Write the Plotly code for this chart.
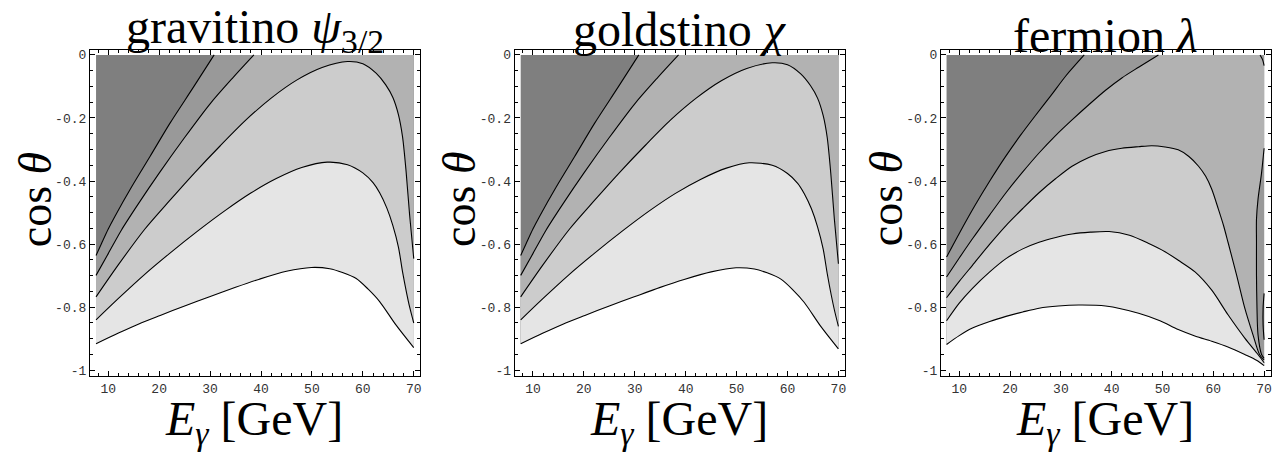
import plotly.graph_objects as go

# ---------------- data ----------------
X_TICKS = [10, 20, 30, 40, 50, 60, 70]
X_TICKTEXT = ["10", "20", "30", "40", "50", "60", "70"]
Y_TICKS = [0, -0.2, -0.4, -0.6, -0.8, -1]
Y_TICKTEXT = ["0", "-0.2", "-0.4", "-0.6", "-0.8", "-1"]

TITLES = ["gravitino <i>ψ</i><sub>3/2</sub>", "goldstino <i>χ</i>", "fermion <i>λ</i>"]

# panel 1: gravitino
G_C1_X = [7.6, 8.7, 10.0, 11.3, 14.6, 18.2, 22.1, 26.7, 30.8]
G_C1_Y = [-0.636, -0.597, -0.552, -0.512, -0.418, -0.322, -0.217, -0.103, 0.0]
G_C2_X = [7.6, 10.0, 12.6, 16.0, 20.0, 25.0, 30.0, 34.5, 38.6]
G_C2_Y = [-0.699, -0.630, -0.555, -0.470, -0.375, -0.262, -0.155, -0.072, 0.0]
G_C3_X = [7.6, 12.0, 17.2, 22.0, 27.0, 32.0, 37.0, 42.0, 47.0, 52.0, 57.0, 60.0, 62.6, 64.5, 65.9, 67.0, 67.8, 68.5, 69.2, 70.0]
G_C3_Y = [-0.767, -0.665, -0.552, -0.463, -0.373, -0.288, -0.207, -0.137, -0.080, -0.040, -0.021, -0.028, -0.058, -0.095, -0.135, -0.190, -0.260, -0.370, -0.510, -0.646]
G_C4_X = [7.6, 12, 17, 22, 27.6, 33, 38, 43, 48, 53, 57, 60, 62, 63.3, 64.7, 65.9, 67, 67.8, 68.6, 69.2, 70]
G_C4_Y = [-0.840, -0.772, -0.698, -0.630, -0.558, -0.493, -0.438, -0.392, -0.357, -0.340, -0.348, -0.374, -0.405, -0.437, -0.485, -0.541, -0.610, -0.688, -0.755, -0.800, -0.850]
G_C5_X = [7.6, 12, 16, 20.2, 25, 29.9, 35, 39.7, 45, 49.9, 53.5, 56, 58.7, 61, 63.3, 66.5, 70]
G_C5_Y = [-0.916, -0.882, -0.853, -0.826, -0.796, -0.767, -0.737, -0.711, -0.686, -0.674, -0.678, -0.690, -0.709, -0.742, -0.782, -0.856, -0.928]

# panel 2: goldstino
S_C1_X = [7.6, 8.7, 10.0, 11.3, 14.6, 18.2, 22.1, 26.7, 30.8]
S_C1_Y = [-0.636, -0.597, -0.552, -0.512, -0.418, -0.322, -0.217, -0.103, 0.0]
S_C2_X = [7.6, 10.0, 12.6, 16.0, 20.0, 25.0, 30.0, 34.5, 38.6]
S_C2_Y = [-0.699, -0.630, -0.555, -0.470, -0.375, -0.262, -0.155, -0.072, 0.0]
S_C3_X = [7.6, 12.0, 17.2, 22.0, 27.0, 32.0, 37.0, 42.0, 47.0, 52.0, 57.0, 60.0, 62.6, 64.5, 65.9, 67.0, 67.8, 68.5, 69.2, 70.0]
S_C3_Y = [-0.767, -0.665, -0.552, -0.463, -0.373, -0.288, -0.207, -0.138, -0.082, -0.043, -0.025, -0.031, -0.060, -0.097, -0.137, -0.192, -0.262, -0.375, -0.520, -0.662]
S_C4_X = [7.6, 12, 17, 22, 27.6, 33, 38, 43, 48, 52.5, 57, 60, 62, 63.3, 64.7, 65.9, 67, 67.8, 68.6, 69.2, 70]
S_C4_Y = [-0.840, -0.772, -0.698, -0.630, -0.558, -0.493, -0.439, -0.394, -0.359, -0.342, -0.350, -0.376, -0.407, -0.440, -0.488, -0.545, -0.615, -0.693, -0.762, -0.808, -0.861]
S_C5_X = [7.6, 12, 16, 20.2, 25, 29.9, 35, 39.7, 45, 49.9, 53.5, 56, 58.7, 61, 63.3, 66.5, 70]
S_C5_Y = [-0.916, -0.882, -0.853, -0.826, -0.796, -0.767, -0.737, -0.712, -0.688, -0.675, -0.679, -0.691, -0.711, -0.744, -0.785, -0.860, -0.932]

# panel 3: fermion
F_C1_X = [7.5, 10, 13, 16, 19, 22, 25, 28, 31, 34.6]
F_C1_Y = [-0.641, -0.566, -0.480, -0.400, -0.325, -0.256, -0.192, -0.130, -0.066, 0.0]
F_C2_X = [7.5, 10, 12.6, 16, 19.2, 22.5, 25.7, 29, 32.2, 35.5, 38.8, 42, 45.3, 49.2]
F_C2_Y = [-0.704, -0.644, -0.583, -0.507, -0.437, -0.371, -0.311, -0.255, -0.206, -0.158, -0.112, -0.073, -0.039, 0.0]
F_C3_X = [7.5, 10, 12.6, 16, 19.2, 22.5, 25.7, 29, 32.2, 35.5, 38.8, 42, 45.3, 47.9, 50.5, 53.1, 55.2, 57.1, 58.5, 59.7, 61.0, 62.0, 62.9, 64.6, 66.2, 67.8, 69.1, 70.0]
F_C3_Y = [-0.770, -0.718, -0.667, -0.600, -0.541, -0.487, -0.437, -0.392, -0.353, -0.325, -0.306, -0.296, -0.291, -0.288, -0.292, -0.301, -0.322, -0.353, -0.385, -0.426, -0.489, -0.540, -0.594, -0.699, -0.803, -0.887, -0.950, -0.968]
F_C4_X = [7.5, 10, 12.6, 16, 19.2, 22.5, 25.7, 29, 32.2, 35.8, 39.5, 43.5, 47.3, 50.5, 53.1, 56.4, 59.7, 62.9, 66.2, 68.8, 70]
F_C4_Y = [-0.843, -0.787, -0.740, -0.688, -0.646, -0.615, -0.594, -0.579, -0.568, -0.562, -0.560, -0.572, -0.598, -0.624, -0.651, -0.688, -0.746, -0.824, -0.898, -0.950, -0.976]
F_C5_X = [7.5, 10, 12.6, 16, 19.2, 22.5, 25.7, 29.5, 33.5, 38.8, 45.3, 49.5, 53.1, 56.5, 59.7, 63, 66.2, 68.5, 70]
F_C5_Y = [-0.918, -0.890, -0.866, -0.845, -0.829, -0.815, -0.803, -0.796, -0.793, -0.796, -0.819, -0.843, -0.871, -0.892, -0.908, -0.927, -0.950, -0.968, -0.985]
F_C2R_X = [70.0, 69.5, 68.8, 68.5, 68.5, 68.5, 68.6, 68.8, 69.5, 70.0]
F_C2R_Y = [-0.296, -0.374, -0.458, -0.521, -0.594, -0.699, -0.803, -0.887, -0.950, -0.962]
F_C1R_X = [70.0, 69.8, 69.8, 70.0]
F_C1R_Y = [-0.756, -0.803, -0.856, -0.903]
F_ARC_X = [69.2, 69.7, 70.0]
F_ARC_Y = [0.0, -0.015, -0.034]

# ---------------- styling ----------------
SHADES = ["#7f7f7f", "#999999", "#b2b2b2", "#cccccc", "#e5e5e5", "#ffffff"]
X_RANGE = [6.4, 71.3]
Y_RANGE = [-1.018, 0.016]
W, H = 1275, 456
FRAMES_PX = [(90, 420.7), (515, 845.7), (941.7, 1271.7)]
Y_DOM = [1 - 378.3 / H, 1 - 49.3 / H]

fig = go.Figure()


def poly(xs, ys, color, xa, ya):
    fig.add_trace(go.Scatter(x=xs, y=ys, fill="toself", fillcolor=color, mode="lines",
                             line=dict(width=0, color=color), hoverinfo="skip",
                             showlegend=False, xaxis=xa, yaxis=ya))


def line(xs, ys, xa, ya):
    fig.add_trace(go.Scatter(x=xs, y=ys, mode="lines",
                             line=dict(color="black", width=1.1, shape="spline", smoothing=0.8),
                             hoverinfo="skip", showlegend=False, xaxis=xa, yaxis=ya))


def below(cx, cy, x0, x1, color, xa, ya, pad=0.0):
    xs = list(cx) + [x1 + pad, x1 + pad, x0 - pad, x0 - pad]
    ys = list(cy) + [cy[-1], -1.0 - pad * 0.02, -1.0 - pad * 0.02, cy[0]]
    poly(xs, ys, color, xa, ya)


def simple_panel(curves, xa, ya):
    x0 = curves[0][0][0]
    x1 = 70.0
    poly([x0, x1, x1, x0], [0, 0, -1, -1], SHADES[0], xa, ya)
    for k, (cx, cy) in enumerate(curves):
        below(cx, cy, x0, x1, SHADES[k + 1], xa, ya, pad=0.5 if k == 4 else 0.0)
    for cx, cy in curves:
        line(cx, cy, xa, ya)


simple_panel([(G_C1_X, G_C1_Y), (G_C2_X, G_C2_Y), (G_C3_X, G_C3_Y),
              (G_C4_X, G_C4_Y), (G_C5_X, G_C5_Y)], "x", "y")
simple_panel([(S_C1_X, S_C1_Y), (S_C2_X, S_C2_Y), (S_C3_X, S_C3_Y),
              (S_C4_X, S_C4_Y), (S_C5_X, S_C5_Y)], "x2", "y2")

# panel 3 (extra contours near the right edge)
xa, ya = "x3", "y3"
x0, x1 = F_C1_X[0], 70.0
poly([x0, x1, x1, x0], [0, 0, -1, -1], SHADES[0], xa, ya)
below(F_C1_X, F_C1_Y, x0, x1, SHADES[1], xa, ya)
px = F_C2_X + F_ARC_X + F_C2R_X + [x1, x0]
py = F_C2_Y + F_ARC_Y + F_C2R_Y + [-1.0, -1.0]
poly(px, py, SHADES[2], xa, ya)
below(F_C3_X, F_C3_Y, x0, x1, SHADES[3], xa, ya)
below(F_C4_X, F_C4_Y, x0, x1, SHADES[4], xa, ya)
below(F_C5_X, F_C5_Y, x0, x1, SHADES[5], xa, ya, pad=0.5)
poly(F_C1R_X, F_C1R_Y, SHADES[0], xa, ya)
for cx, cy in [(F_C1_X, F_C1_Y), (F_C2_X, F_C2_Y), (F_C3_X, F_C3_Y), (F_C4_X, F_C4_Y),
               (F_C5_X, F_C5_Y), (F_C2R_X, F_C2R_Y), (F_C1R_X, F_C1R_Y), (F_ARC_X, F_ARC_Y)]:
    line(cx, cy, xa, ya)

tickfont = dict(family="Liberation Mono, Courier New, monospace", size=13, color="#333333")
layout = dict(width=W, height=H, margin=dict(l=0, r=0, t=0, b=0), autosize=False,
              paper_bgcolor="white", plot_bgcolor="white", showlegend=False)
annotations = []
serif = "Liberation Serif, Times New Roman, serif"
for i, (l, r) in enumerate(FRAMES_PX):
    sfx = "" if i == 0 else str(i + 1)
    layout["xaxis" + sfx] = dict(domain=[l / W, r / W], range=X_RANGE, anchor="y" + sfx,
                                 showgrid=False, zeroline=False, showline=True, linecolor="black",
                                 linewidth=1, mirror="ticks", ticks="inside", ticklen=5,
                                 tickcolor="black", tickwidth=1, tickmode="array",
                                 tickvals=X_TICKS, ticktext=X_TICKTEXT, tickfont=tickfont,
                                 minor=dict(dtick=2, tick0=0, ticks="inside", ticklen=3,
                                            tickcolor="black", tickwidth=1),
                                 fixedrange=True)
    layout["yaxis" + sfx] = dict(domain=Y_DOM, range=Y_RANGE, anchor="x" + sfx,
                                 showgrid=False, zeroline=False, showline=True, linecolor="black",
                                 linewidth=1, mirror="ticks", ticks="inside", ticklen=5,
                                 tickcolor="black", tickwidth=1, tickmode="array",
                                 tickvals=Y_TICKS, ticktext=Y_TICKTEXT, tickfont=tickfont,
                                 minor=dict(dtick=0.05, tick0=0, ticks="inside", ticklen=3,
                                            tickcolor="black", tickwidth=1),
                                 fixedrange=True)
    cx = (l + r) / 2
    ty = 29 if i < 2 else 35
    annotations.append(dict(text=TITLES[i], x=cx / W, y=1 - ty / H, xref="paper", yref="paper",
                            xanchor="center", yanchor="middle", showarrow=False,
                            font=dict(family=serif, size=48, color="black")))
    annotations.append(dict(text="<i>E</i><sub><i>γ</i></sub> [GeV]", x=(cx - 1) / W,
                            y=1 - 425 / H, xref="paper", yref="paper", xanchor="center",
                            yanchor="middle", showarrow=False,
                            font=dict(family=serif, size=48, color="black")))
    annotations.append(dict(text="cos <i>θ</i>", x=(l - 55) / W, y=1 - 200 / H,
                            xref="paper", yref="paper", xanchor="center", yanchor="middle",
                            textangle=-90, showarrow=False,
                            font=dict(family=serif, size=46, color="black")))
layout["annotations"] = annotations
fig.update_layout(**layout)
fig.write_html("out.html")
